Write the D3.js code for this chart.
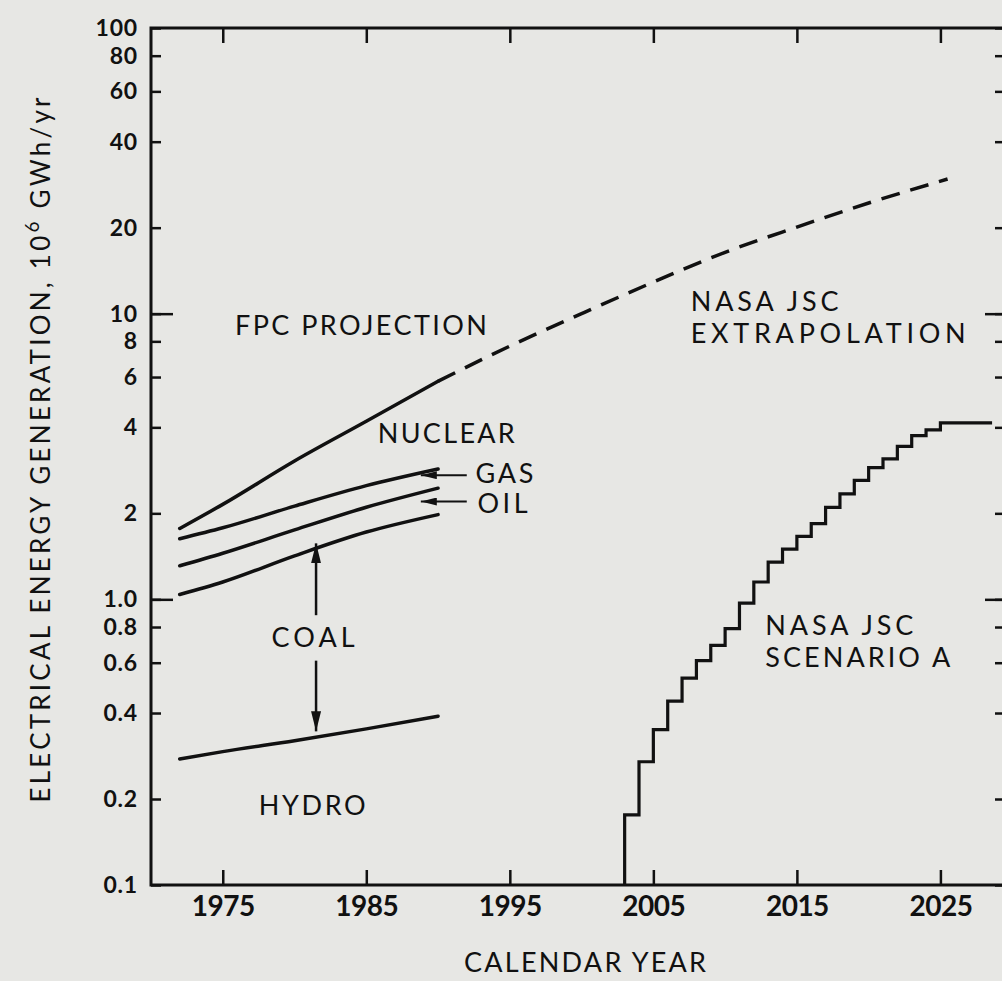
<!DOCTYPE html>
<html><head><meta charset="utf-8">
<script src="https://cdn.jsdelivr.net/npm/d3@7"></script>
<style>
html,body{margin:0;padding:0;background:#e7e7e4;}
svg{display:block;}
text{font-family:Lato,"Open Sans","DejaVu Sans",sans-serif;fill:#111;}
</style></head><body>
<svg id="c" width="1002" height="981"></svg>
<script>
// ---- data ----
const histYears = [1972, 1975, 1980, 1985, 1990];
const fpcTotal  = [1.77, 2.15, 3.05, 4.2, 5.8];
const gasTop    = [1.63, 1.78, 2.12, 2.5, 2.86];
const oilTop    = [1.31, 1.45, 1.75, 2.1, 2.45];
const coalTop   = [1.04, 1.15, 1.42, 1.72, 1.98];
const hydroTop  = [0.276, 0.293, 0.32, 0.352, 0.39];

const extYears  = [1990, 1995, 2000, 2005, 2010, 2015, 2020, 2025.5];
const extValues = [5.8, 7.7, 10, 12.9, 16.4, 20.1, 24.4, 29.6];

const scenYears  = [2003, 2003, 2004, 2005, 2006, 2007, 2008, 2009, 2010, 2011, 2012, 2013, 2014,
                    2015, 2016, 2017, 2018, 2019, 2020, 2021, 2022, 2023, 2024, 2025, 2028.6];
const scenValues = [0.1, 0.176, 0.27, 0.35, 0.44, 0.53, 0.61, 0.69, 0.79, 0.97, 1.15, 1.35, 1.50,
                    1.66, 1.84, 2.10, 2.34, 2.61, 2.89, 3.10, 3.43, 3.74, 3.92, 4.15, 4.15];

const xTicks = [1975, 1985, 1995, 2005, 2015, 2025];
const yTicks = [100, 80, 60, 40, 20, 10, 8, 6, 4, 2, 1, 0.8, 0.6, 0.4, 0.2, 0.1];
const yTickLabels = ["100","80","60","40","20","10","8","6","4","2","1.0","0.8","0.6","0.4","0.2","0.1"];
const yMajor = [10, 1];

// annotation anchors in data space [year, value]
const labels = [
  {t:"FPC PROJECTION", x:1975.85, v:8.4,  w:252},
  {t:"NUCLEAR",        x:1985.8,  v:3.54, w:137},
  {t:"GAS",            x:1992.6,  v:2.56, w:58},
  {t:"OIL",            x:1992.75, v:2.01, w:50},
  {t:"COAL",           x:1978.4,  v:0.679,w:83},
  {t:"HYDRO",          x:1977.5,  v:0.176,w:107},
  {t:"NASA JSC",       x:2007.6,  v:10.23,w:148},
  {t:"EXTRAPOLATION",  x:2007.6,  v:7.9,  w:275},
  {t:"NASA JSC",       x:2012.8,  v:0.748,w:148},
  {t:"SCENARIO A",     x:2012.8,  v:0.578,w:185}
];
const leftArrows = [ {x1:1992.0, x2:1988.8, v:2.72}, {x1:1992.0, x2:1988.8, v:2.2} ];
const coalArrow = {x:1981.5, up:[0.88, 1.57], down:[0.61, 0.345]};

// ---- scales ----
const svg = d3.select("#c");
const x = d3.scaleLinear().domain([1970, 2029.5]).range([151, 1005]);
const y = d3.scaleLog().domain([0.1, 100]).range([885, 28]);
const ink = "#111";

// frame
const frame = svg.append("g").attr("stroke", ink).attr("stroke-width", 3).attr("fill","none");
frame.append("path").attr("d", `M${x(2029.5)},${y(100)}H${x(1970)}V${y(0.1)}H${x(2029.5)}`);
frame.append("line").attr("x1", x(2029.5)).attr("x2", x(2029.5)).attr("y1", y(100)).attr("y2", y(0.1));

// y axis left: labels + minor ticks
const yAxis = d3.axisLeft(y).tickValues(yTicks).tickSize(-10).tickPadding(13)
  .tickFormat((d,i)=>yTickLabels[i]);
const gy = svg.append("g").attr("transform", `translate(${x(1970)},0)`).call(yAxis);
gy.select(".domain").remove();
gy.selectAll(".tick line").attr("stroke", ink).attr("stroke-width", 2.5);
gy.selectAll(".tick text").attr("font-size", 23).attr("font-weight", "bold").attr("fill", ink)
  .attr("font-family", "Lato, sans-serif").attr("letter-spacing", 0.8);
// major ticks longer
const gyM = svg.append("g").attr("transform", `translate(${x(1970)},0)`)
  .call(d3.axisLeft(y).tickValues(yMajor).tickSize(-22).tickFormat(""));
gyM.select(".domain").remove();
gyM.selectAll(".tick text").remove();
gyM.selectAll(".tick line").attr("stroke", ink).attr("stroke-width", 2.5);

// right axis ticks (inward)
const gr = svg.append("g").attr("transform", `translate(${x(2029.5)},0)`)
  .call(d3.axisRight(y).tickValues(yTicks).tickSize(-10).tickFormat(""));
gr.select(".domain").remove();
gr.selectAll(".tick text").remove();
gr.selectAll(".tick line").attr("stroke", ink).attr("stroke-width", 2.5);
const grM = svg.append("g").attr("transform", `translate(${x(2029.5)},0)`)
  .call(d3.axisRight(y).tickValues(yMajor).tickSize(-20).tickFormat(""));
grM.select(".domain").remove();
grM.selectAll(".tick text").remove();
grM.selectAll(".tick line").attr("stroke", ink).attr("stroke-width", 2.5);

// x axis bottom
const gx = svg.append("g").attr("transform", `translate(0,${y(0.1)})`)
  .call(d3.axisBottom(x).tickValues(xTicks).tickSize(-15).tickPadding(11).tickFormat(d3.format("d")));
gx.select(".domain").remove();
gx.selectAll(".tick line").attr("stroke", ink).attr("stroke-width", 2.5);
gx.selectAll(".tick text").attr("font-size", 28).attr("font-weight", "bold").attr("fill", ink)
  .attr("font-family", "Lato, sans-serif").attr("letter-spacing", -0.5);
// x axis top ticks
const gt = svg.append("g").attr("transform", `translate(0,${y(100)})`)
  .call(d3.axisTop(x).tickValues(xTicks).tickSize(-15).tickFormat(""));
gt.select(".domain").remove();
gt.selectAll(".tick text").remove();
gt.selectAll(".tick line").attr("stroke", ink).attr("stroke-width", 2.5);

// ---- series ----
const lineGen = d3.line().x(d=>x(d[0])).y(d=>y(d[1])).curve(d3.curveMonotoneX);
const series = [fpcTotal, gasTop, oilTop, coalTop, hydroTop];
series.forEach(vals=>{
  svg.append("path").datum(histYears.map((yr,i)=>[yr, vals[i]]))
    .attr("d", lineGen).attr("fill","none").attr("stroke", ink)
    .attr("stroke-width", 3.5).attr("stroke-linecap","round");
});
svg.append("path").datum(extYears.map((yr,i)=>[yr, extValues[i]]))
  .attr("d", lineGen).attr("fill","none").attr("stroke", ink)
  .attr("stroke-width", 3.5).attr("stroke-dasharray","19,11");

const stepGen = d3.line().x(d=>x(d[0])).y(d=>y(d[1])).curve(d3.curveStepAfter);
svg.append("path").datum(scenYears.map((yr,i)=>[yr, scenValues[i]]))
  .attr("d", stepGen).attr("fill","none").attr("stroke", ink)
  .attr("stroke-width", 3.2).attr("stroke-linejoin","miter");

// ---- arrows ----
const defs = svg.append("defs");
defs.append("marker").attr("id","ah").attr("viewBox","0 0 20 10").attr("refX",20).attr("refY",5)
  .attr("markerWidth",20).attr("markerHeight",10).attr("markerUnits","userSpaceOnUse").attr("orient","auto")
  .append("path").attr("d","M0,0L20,5L0,10Z").attr("fill", ink);
defs.append("marker").attr("id","ahs").attr("viewBox","0 0 16 8").attr("refX",16).attr("refY",4)
  .attr("markerWidth",16).attr("markerHeight",8).attr("markerUnits","userSpaceOnUse").attr("orient","auto")
  .append("path").attr("d","M0,0L16,4L0,8Z").attr("fill", ink);
leftArrows.forEach(a=>{
  svg.append("line").attr("x1", x(a.x1)).attr("x2", x(a.x2)).attr("y1", y(a.v)).attr("y2", y(a.v))
    .attr("stroke", ink).attr("stroke-width", 2).attr("marker-end","url(#ahs)");
});
svg.append("line").attr("x1", x(coalArrow.x)).attr("x2", x(coalArrow.x))
  .attr("y1", y(coalArrow.up[0])).attr("y2", y(coalArrow.up[1]))
  .attr("stroke", ink).attr("stroke-width", 2.5).attr("marker-end","url(#ah)");
svg.append("line").attr("x1", x(coalArrow.x)).attr("x2", x(coalArrow.x))
  .attr("y1", y(coalArrow.down[0])).attr("y2", y(coalArrow.down[1]))
  .attr("stroke", ink).attr("stroke-width", 2.5).attr("marker-end","url(#ah)");

// ---- labels ----
labels.forEach(l=>{
  svg.append("text").attr("x", x(l.x)).attr("y", y(l.v)).text(l.t)
    .attr("font-size", 27).attr("textLength", l.w).attr("lengthAdjust","spacing");
});

// axis titles
svg.append("text").attr("x", 585).attr("y", 972).attr("text-anchor","middle")
  .attr("font-size", 27).attr("textLength", 242).attr("lengthAdjust","spacing").text("CALENDAR YEAR");
const yt = svg.append("text").attr("transform","translate(50,450) rotate(-90)")
  .attr("text-anchor","middle").attr("font-size", 26).attr("textLength", 705).attr("lengthAdjust","spacing");
yt.append("tspan").text("ELECTRICAL ENERGY GENERATION, 10");
yt.append("tspan").attr("font-size", 19).attr("dy", -11).text("6");
yt.append("tspan").attr("dy", 11).text(" GWh/yr");
</script>
</body></html>
